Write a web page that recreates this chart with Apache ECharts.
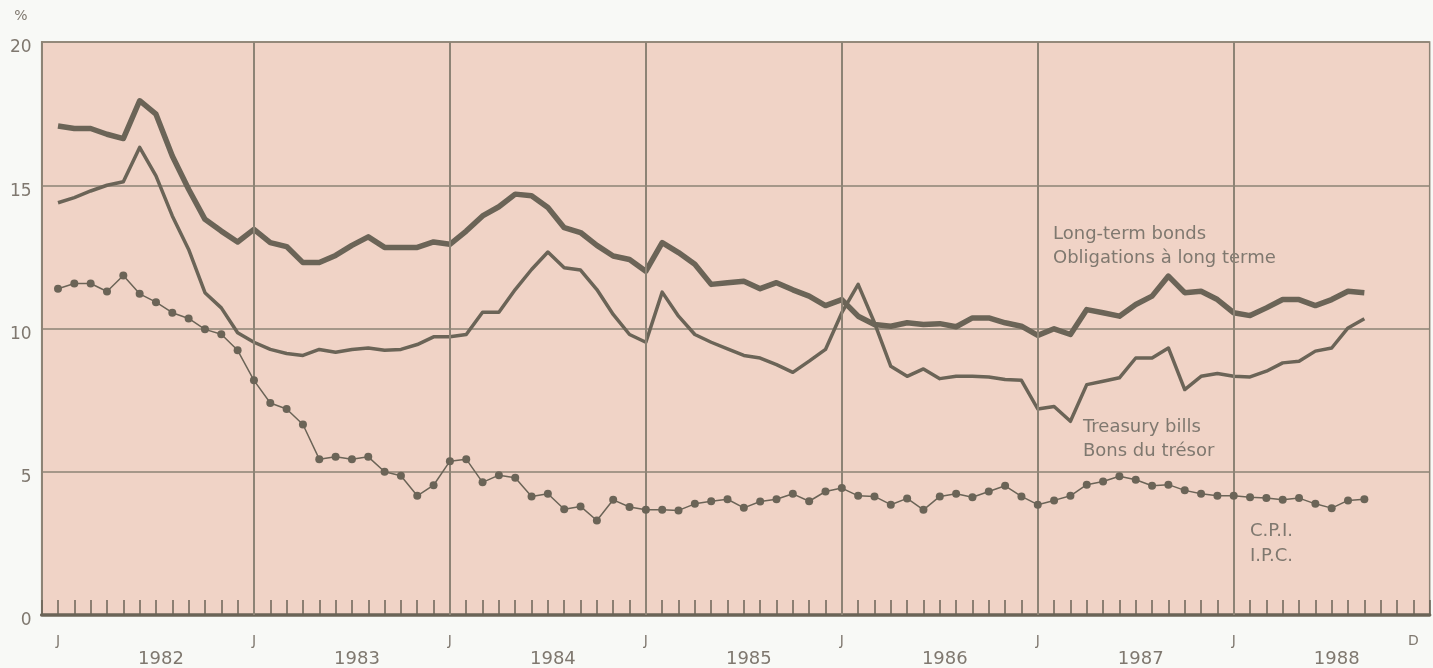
<!DOCTYPE html>
<html>
<head>
<meta charset="utf-8">
<script src="https://cdn.jsdelivr.net/npm/echarts@6/dist/echarts.min.js"></script>
<style>
  html, body { margin: 0; padding: 0; background: #f8f9f6; }
  #chart { width: 1433px; height: 668px; }
</style>
</head>
<body>
<div id="chart"></div>
<script>
// months counted from Jan 1982 (0) to Sep 1988 (80)
var years = ['1982', '1983', '1984', '1985', '1986', '1987', '1988'];

var bonds = [
  17.07, 16.98, 16.98, 16.78, 16.63, 17.95, 17.48, 16.02, 14.86, 13.81, 13.40, 13.02,
  13.46, 13.00, 12.86, 12.30, 12.30, 12.55, 12.90, 13.20, 12.83, 12.83, 12.83, 13.02,
  12.94, 13.40, 13.93, 14.25, 14.69, 14.63, 14.22, 13.52, 13.35, 12.90, 12.53, 12.41,
  12.00, 13.00, 12.65, 12.24, 11.54, 11.60, 11.65, 11.39, 11.60, 11.35, 11.13, 10.80,
  11.01, 10.43, 10.14, 10.08, 10.20, 10.14, 10.17, 10.06, 10.37, 10.37, 10.20, 10.08,
  9.76, 9.99, 9.79, 10.66, 10.55, 10.43, 10.84, 11.13, 11.83, 11.25, 11.30, 11.01,
  10.55, 10.45, 10.72, 11.01, 11.01, 10.80, 11.01, 11.30, 11.25
];

var tbills = [
  14.39, 14.57, 14.80, 15.00, 15.12, 16.32, 15.33, 13.93, 12.76, 11.25, 10.72, 9.85,
  9.52, 9.27, 9.13, 9.06, 9.27, 9.17, 9.27, 9.32, 9.24, 9.27, 9.44, 9.71,
  9.71, 9.79, 10.57, 10.57, 11.36, 12.06, 12.67, 12.12, 12.04, 11.36, 10.49, 9.79,
  9.52, 11.27, 10.43, 9.79, 9.52, 9.29, 9.06, 8.97, 8.74, 8.47, 8.86, 9.27,
  10.55, 11.54, 10.20, 8.68, 8.33, 8.59, 8.25, 8.33, 8.33, 8.31, 8.22, 8.19,
  7.19, 7.28, 6.76, 8.04, 8.16, 8.28, 8.97, 8.97, 9.32, 7.87, 8.33, 8.43,
  8.33, 8.31, 8.51, 8.80, 8.86, 9.21, 9.32, 10.02, 10.34
];

var cpi = [
  11.39, 11.57, 11.57, 11.29, 11.85, 11.21, 10.92, 10.55, 10.35, 9.97, 9.80, 9.24,
  8.19, 7.40, 7.19, 6.65, 5.44, 5.52, 5.44, 5.52, 5.00, 4.86, 4.16, 4.53,
  5.37, 5.44, 4.63, 4.88, 4.79, 4.14, 4.23, 3.69, 3.79, 3.30, 4.02, 3.77,
  3.67, 3.67, 3.65, 3.88, 3.97, 4.04, 3.74, 3.96, 4.04, 4.23, 3.97, 4.31,
  4.43, 4.16, 4.14, 3.85, 4.07, 3.67, 4.14, 4.23, 4.11, 4.31, 4.51, 4.14,
  3.85, 4.00, 4.16, 4.55, 4.66, 4.84, 4.72, 4.51, 4.55, 4.35, 4.23, 4.16,
  4.16, 4.11, 4.08, 4.02, 4.08, 3.88, 3.73, 4.00, 4.04
];

var ink = '#6b6457';
var gridInk = '#8d8375';
var textInk = '#7f786f';
var font = 'DejaVu Sans';

function toPairs(arr) {
  return arr.map(function (v, i) { return [i, v]; });
}

var janLines = [];
for (var k = 1; k < years.length; k++) {
  janLines.push({ xAxis: k * 12 });
}

var chart = echarts.init(document.getElementById('chart'));

chart.setOption({
  animation: false,
  backgroundColor: '#f8f9f6',
  grid: {
    left: 41.67,
    right: 3.33,
    top: 42,
    bottom: 53,
    show: true,
    backgroundColor: '#f0d3c6',
    borderColor: gridInk,
    borderWidth: 1.5
  },
  xAxis: [
    {
      type: 'value',
      min: -1,
      max: 84,
      interval: 1,
      position: 'bottom',
      axisLine: { show: true, onZero: false, lineStyle: { color: ink, width: 3.5 } },
      axisTick: { show: true, inside: true, length: 15, lineStyle: { color: ink, width: 1.5 } },
      axisLabel: {
        margin: 19,
        fontFamily: font,
        fontSize: 14,
        color: textInk,
        formatter: function (v) {
          if (v >= 0 && v <= 72 && v % 12 === 0) return 'J';
          if (v === 83) return 'D';
          return '';
        }
      },
      splitLine: { show: false }
    },
    {
      type: 'value',
      min: -1,
      max: 84,
      interval: 1,
      position: 'bottom',
      axisLine: { show: false, onZero: false },
      axisTick: { show: false },
      axisLabel: {
        margin: 35,
        fontFamily: font,
        fontSize: 18,
        color: textInk,
        padding: [0, 0, 0, 10],
        formatter: function (v) {
          if (v >= 0 && v % 12 === 6) return years[(v - 6) / 12];
          return '';
        }
      },
      splitLine: { show: false }
    }
  ],
  yAxis: {
    type: 'value',
    min: 0,
    max: 20,
    interval: 5,
    name: '%',
    nameLocation: 'end',
    nameGap: 19,
    nameTextStyle: { fontFamily: font, fontSize: 14, color: textInk, align: 'right', padding: [0, 14, 0, 0] },
    axisLine: { show: true, onZero: false, lineStyle: { color: gridInk, width: 2 } },
    axisTick: { show: false },
    axisLabel: {
      margin: 10,
      fontFamily: font,
      fontSize: 17,
      color: textInk,
      verticalAlign: 'top',
      lineHeight: 12
    },
    splitLine: { show: true, lineStyle: { color: gridInk, width: 1.5 } }
  },
  series: [
    {
      name: 'Long-term bonds',
      type: 'line',
      data: toPairs(bonds),
      symbol: 'none',
      lineStyle: { color: ink, width: 5.5, join: 'round' },
      z: 4
    },
    {
      name: 'Treasury bills',
      type: 'line',
      data: toPairs(tbills),
      symbol: 'none',
      lineStyle: { color: ink, width: 3.5, join: 'round' },
      z: 3
    },
    {
      name: 'C.P.I.',
      type: 'line',
      data: toPairs(cpi),
      symbol: 'circle',
      symbolSize: 8,
      itemStyle: { color: ink },
      lineStyle: { color: ink, width: 1.5 },
      z: 5,
      markLine: {
        silent: true,
        symbol: 'none',
        label: { show: false },
        lineStyle: { color: gridInk, width: 2, type: 'solid' },
        data: janLines
      }
    }
  ],
  graphic: [
    {
      type: 'text', left: 1053, top: 222,
      style: { text: 'Long-term bonds\nObligations à long terme', fill: textInk, font: '18px "DejaVu Sans"', lineHeight: 24 }
    },
    {
      type: 'text', left: 1083, top: 415,
      style: { text: 'Treasury bills\nBons du trésor', fill: textInk, font: '18px "DejaVu Sans"', lineHeight: 24 }
    },
    {
      type: 'text', left: 1250, top: 519,
      style: { text: 'C.P.I.\nI.P.C.', fill: textInk, font: '18px "DejaVu Sans"', lineHeight: 25 }
    }
  ]
});
</script>
</body>
</html>
